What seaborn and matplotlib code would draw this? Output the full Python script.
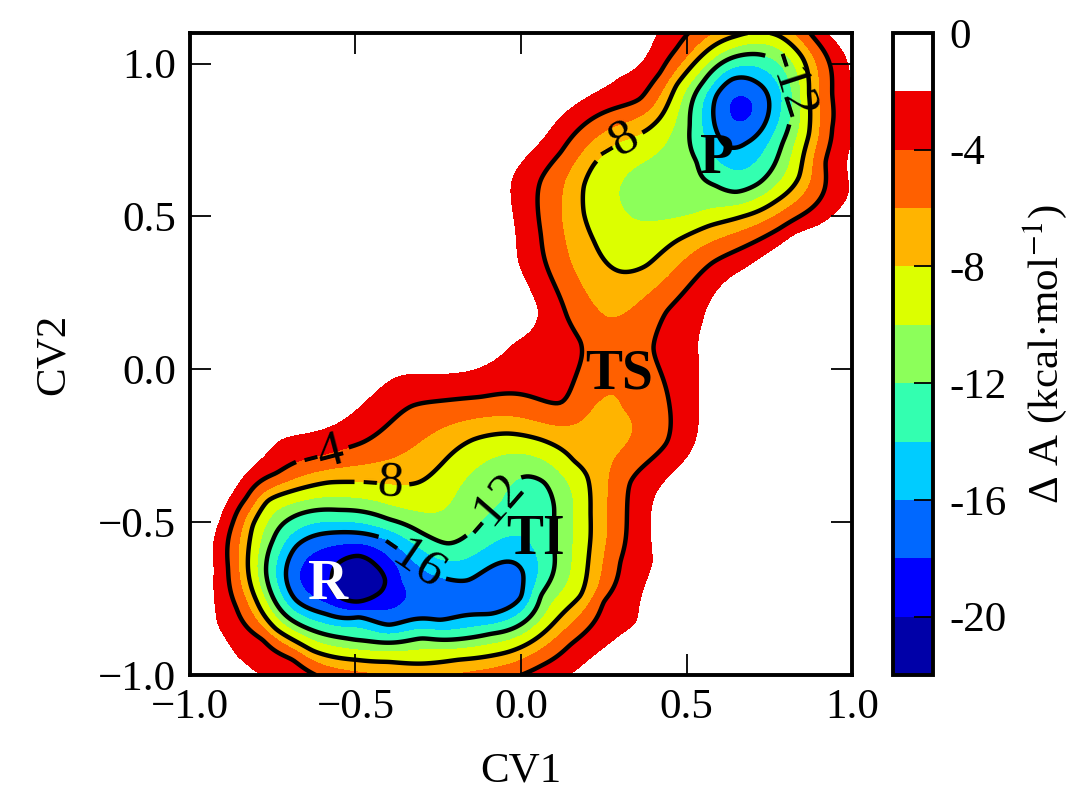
import matplotlib

matplotlib.use("Agg")
import matplotlib.pyplot as plt
import numpy as np
import seaborn as sns


# ===== DATA =====
# Points (CV1, CV2) traced on each iso-free-energy line of the map (kcal/mol)
iso_m2 = [
    (-0.79, -1.0), (-0.86, -0.94), (-0.92, -0.83), (-0.93, -0.65), (-0.915, -0.50),
    (-0.86, -0.38), (-0.73, -0.23), (-0.51, -0.14), (-0.37, -0.02), (-0.12, 0.01),
    (-0.02, 0.09), (0.05, 0.19), (0.03, 0.25), (-0.01, 0.35), (-0.02, 0.46),
    (-0.03, 0.62), (0.06, 0.75), (0.12, 0.83), (0.18, 0.88), (0.30, 0.96), (0.41, 1.1),
    (0.93, 1.1), (0.99, 1.0), (1.02, 0.8), (0.99, 0.57), (0.90, 0.47), (0.83, 0.44),
    (0.68, 0.33), (0.55, 0.15), (0.54, 0.02), (0.54, -0.14), (0.42, -0.39),
    (0.40, -0.63), (0.35, -0.83), (0.15, -1.0),
]
iso_m4 = [
    (-0.62, -1.0), (-0.69, -0.95), (-0.78, -0.885), (-0.86, -0.78), (-0.885, -0.65),
    (-0.87, -0.50), (-0.83, -0.42), (-0.74, -0.34), (-0.60, -0.28), (-0.48, -0.24),
    (-0.33, -0.12), (-0.12, -0.09), (0.12, -0.11), (0.18, 0.09), (0.14, 0.17),
    (0.06, 0.44), (0.06, 0.62), (0.12, 0.71), (0.18, 0.79), (0.36, 0.885),
    (0.42, 0.97), (0.47, 1.05),
    (0.88, 1.09), (0.94, 0.90), (0.94, 0.79), (0.92, 0.68), (0.78, 0.46),
    (0.58, 0.35), (0.44, 0.19), (0.40, 0.07), (0.44, -0.07), (0.44, -0.24),
    (0.33, -0.37), (0.32, -0.48), (0.30, -0.63), (0.25, -0.76), (0.15, -0.90),
    (0.06, -0.97), (0.0, -1.0),
]
iso_m6 = [
    (0.22, -0.12), (0.27, -0.08), (0.31, -0.13), (0.28, -0.30), (0.26, -0.55),
    (0.23, -0.72), (0.26, 0.17), (0.15, 0.35), (0.124, 0.57), (0.52, 0.38),
]
iso_m8 = [
    (-0.58, -0.37), (-0.765, -0.43), (-0.81, -0.51), (-0.825, -0.645), (-0.80, -0.755),
    (-0.74, -0.85), (-0.63, -0.92), (-0.50, -0.95), (-0.40, -0.957), (-0.19, -0.95),
    (-0.04, -0.925), (0.09, -0.84), (0.18, -0.74), (0.21, -0.55), (0.21, -0.47),
    (0.20, -0.35), (0.16, -0.30), (0.06, -0.23), (-0.04, -0.21), (-0.145, -0.23),
    (-0.24, -0.31), (-0.31, -0.37), (-0.44, -0.37),
    (0.19, 0.60), (0.19, 0.51), (0.22, 0.42), (0.30, 0.32), (0.38, 0.34),
    (0.47, 0.42), (0.57, 0.47), (0.67, 0.50), (0.77, 0.55), (0.84, 0.63),
    (0.87, 0.77), (0.87, 0.90), (0.85, 1.02), (0.78, 1.09), (0.65, 1.09),
    (0.55, 1.03), (0.47, 0.93), (0.40, 0.80), (0.29, 0.74), (0.22, 0.67),
]
iso_m12 = [
    (-0.70, -0.49), (-0.75, -0.56), (-0.77, -0.665), (-0.74, -0.765), (-0.66, -0.84),
    (-0.50, -0.885), (-0.30, -0.88), (-0.09, -0.865), (0.06, -0.74), (0.10, -0.58),
    (0.10, -0.45), (0.07, -0.37), (0.02, -0.35), (-0.06, -0.43), (-0.15, -0.53),
    (-0.22, -0.57), (-0.30, -0.535), (-0.40, -0.49), (-0.55, -0.46),
    (0.51, 0.80), (0.53, 0.68), (0.59, 0.60), (0.65, 0.58), (0.72, 0.61),
    (0.77, 0.68), (0.79, 0.74), (0.82, 0.90), (0.78, 1.0), (0.72, 1.03),
    (0.64, 1.02), (0.55, 0.94),
]
iso_m16 = [
    (-0.71, -0.665), (-0.68, -0.58), (-0.61, -0.54), (-0.49, -0.535), (-0.40, -0.56),
    (-0.33, -0.62), (-0.16, -0.69), (-0.03, -0.63), (0.006, -0.665), (0.0, -0.745),
    (-0.09, -0.80), (-0.245, -0.82), (-0.40, -0.836), (-0.49, -0.81), (-0.59, -0.80),
    (-0.68, -0.755),
    (0.59, 0.895), (0.64, 0.95), (0.71, 0.94), (0.75, 0.86), (0.73, 0.79),
    (0.68, 0.74), (0.62, 0.73), (0.585, 0.80),
]
iso_m18 = [
    (-0.67, -0.68), (-0.36, -0.69), (-0.52, -0.57), (-0.50, -0.79),
    (0.63, 0.85), (0.70, 0.85), (0.665, 0.81), (0.665, 0.895),
]
iso_m20 = [
    (-0.57, -0.68), (-0.41, -0.69), (-0.49, -0.61), (-0.49, -0.76),
    (-0.54, -0.625), (-0.54, -0.75), (-0.44, -0.64), (-0.44, -0.74),
]
# Single readings inside the basins: (CV1, CV2, free energy)
spot_values = [
    (-0.49, -0.69, -21.6), (0.665, 0.853, -18.8), (-0.25, -0.72, -17.0),
    (-0.10, -0.72, -17.2), (-0.15, -0.40, -10.8), (0.38, 0.58, -10.6),
    (0.50, 0.55, -11.2), (0.29, 0.03, -5.0), (0.28, -0.20, -6.8),
    (0.28, 0.25, -7.0), (-0.25, -0.06, -3.0), (0.0, 0.02, -2.8),
    (-0.50, -0.20, -3.0), (-0.30, -1.0, -6.6),
    (-0.30, -1.14, -2.0), (-0.60, -1.07, -2.0), (0.0, -1.06, -2.0),
]
# Unsampled (white) area around the map
white_area = [
    (-1.04, -0.83), (-1.05, -0.65), (-1.03, -0.48), (-0.97, -0.30), (-0.82, -0.14),
    (-0.58, -0.04), (-0.40, 0.09), (-0.17, 0.11), (-0.09, 0.22), (-0.11, 0.35),
    (-0.13, 0.48), (-0.13, 0.64), (-0.04, 0.82), (0.09, 0.94), (0.24, 1.04),
    (0.33, 1.17), (-0.93, -1.03), (-0.90, 0.90), (-0.60, 0.60), (-0.60, 0.20),
    (-0.30, 0.40), (-0.90, 0.30), (-0.10, 1.05),
    (1.10, 0.80), (1.06, 1.12), (0.98, 0.42), (0.85, 0.36), (0.70, 0.24), (0.64, 0.10),
    (0.64, -0.05), (0.64, -0.17), (0.52, -0.42), (0.50, -0.63), (0.45, -0.87),
    (0.27, -1.04), (0.85, 0.0), (0.90, -0.50), (0.75, -0.90), (1.0, 0.20),
    (0.70, -0.40),
]

band_levels = [-22, -20, -18, -16, -14, -12, -10, -8, -6, -4, -2, 0]
band_colors = [
    "#0000a8", "#0000ff", "#0068ff", "#00ccff", "#33ffb0", "#8cff5a",
    "#dcff00", "#ffb400", "#ff6000", "#ee0000", "#ffffff",
]
plain_levels = [-20]
labelled_levels = [-16, -12, -8, -4]
cbar_ticks = [0, -4, -8, -12, -16, -20]
cbar_labels = ["0", "-4", "-8", "-12", "-16", "-20"]
axis_ticks = [-1.0, -0.5, 0.0, 0.5, 1.0]
state_names = ["R", "TI", "TS", "P"]
state_spots = [(-0.583, -0.705), (0.045, -0.557), (0.296, -0.016), (0.592, 0.689)]
state_colors = ["white", "black", "black", "black"]
label_spots = [(-0.60, -0.28), (-0.42, -0.37), (-0.07, -0.46), (-0.33, -0.62),
               (0.29, 0.74), (0.81, 0.93)]


# ===== METHODS =====
def tps_kernel(r):
    with np.errstate(divide="ignore", invalid="ignore"):
        k = r**2 * np.log(r)
    return np.nan_to_num(k)


def fit_surface(px, py, pv, smooth=2e-4):
    """Thin plate spline through the traced samples."""
    n = len(px)
    r = np.hypot(px[:, None] - px[None, :], py[:, None] - py[None, :])
    A = np.zeros((n + 3, n + 3))
    A[:n, :n] = tps_kernel(r) + smooth * np.eye(n)
    P = np.column_stack([np.ones(n), px, py])
    A[:n, n:] = P
    A[n:, :n] = P.T
    b = np.concatenate([pv, np.zeros(3)])
    sol = np.linalg.solve(A, b)
    return sol[:n], sol[n:]


def eval_surface(gx, gy, px, py, w, a):
    fx, fy = gx.ravel(), gy.ravel()
    out = np.empty(fx.size)
    step = 10000
    for i in range(0, fx.size, step):
        r = np.hypot(fx[i:i + step, None] - px[None, :], fy[i:i + step, None] - py[None, :])
        out[i:i + step] = tps_kernel(r) @ w + a[0] + a[1] * fx[i:i + step] + a[2] * fy[i:i + step]
    return out.reshape(gx.shape)


# ===== SAMPLES =====
samples = []
for level, pts in [(-2, iso_m2), (-4, iso_m4), (-6, iso_m6), (-8, iso_m8),
                   (-12, iso_m12), (-16, iso_m16), (-18, iso_m18), (-20, iso_m20)]:
    samples += [(x, y, level) for x, y in pts]
samples += spot_values
samples += [(x, y, 0.0) for x, y in white_area]
samples = np.array(samples, dtype=float)

w, a = fit_surface(samples[:, 0], samples[:, 1], samples[:, 2])
gx, gy = np.meshgrid(np.linspace(-1.0, 1.0, 300), np.linspace(-1.0, 1.1, 320))
fes = eval_surface(gx, gy, samples[:, 0], samples[:, 1], w, a)
fes = np.clip(fes, -21.99, -0.01)

# ===== PLOT =====
sns.set_theme(style="ticks")
sns.set_style("ticks", {
    "axes.edgecolor": "black", "xtick.color": "black", "ytick.color": "black",
    "text.color": "black", "axes.labelcolor": "black", "axes.axisbelow": False,
    "xtick.direction": "in", "ytick.direction": "in",
})
plt.rcParams["font.family"] = ["Liberation Serif", "DejaVu Serif"]
plt.rcParams["mathtext.fontset"] = "stix"

fig = plt.figure(figsize=(10.77, 8.01), dpi=100)
ax = fig.add_axes([0.1764, 0.1573, 0.6147, 0.8015])
cax = fig.add_axes([0.829, 0.1573, 0.037, 0.8015])
ax.set_axisbelow(False)
cax.set_axisbelow(False)

cf = ax.contourf(gx, gy, fes, levels=band_levels, colors=band_colors)
ax.contour(gx, gy, fes, levels=plain_levels, colors="black", linewidths=3.2,
           linestyles="solid")
cs = ax.contour(gx, gy, fes, levels=labelled_levels, colors="black", linewidths=3.2,
                linestyles="solid")
ax.clabel(cs, fmt="%d", fontsize=37, inline=True, inline_spacing=6, manual=label_spots)

for name, (sx, sy), col in zip(state_names, state_spots, state_colors):
    ax.text(sx, sy, name, color=col, fontsize=40, fontweight="bold", ha="center", va="center")

ax.set_xlim(-1.0, 1.0)
ax.set_ylim(-1.0, 1.1)
ax.set_xticks(axis_ticks)
ax.set_yticks(axis_ticks)
ax.tick_params(direction="in", length=15, width=1.3, top=True, right=True,
               color="black", labelsize=31, pad=10)
for sp in ax.spines.values():
    sp.set_linewidth(2.8)
ax.set_xlabel("CV1", fontsize=31, labelpad=18)
ax.set_ylabel("CV2", fontsize=31, labelpad=18)

cbar = fig.colorbar(cf, cax=cax, ticks=cbar_ticks)
cbar.ax.set_yticklabels(cbar_labels)
cbar.outline.set_linewidth(2.8)
cax.yaxis.set_ticks_position("right")
cax.minorticks_off()
cax.tick_params(direction="in", length=14, width=1.3, color="black", labelsize=31, pad=12)
cbar.set_label("Δ A (kcal·mol$^{-1}$)", fontsize=31, labelpad=10)

fig.savefig("out.png", dpi=100)
